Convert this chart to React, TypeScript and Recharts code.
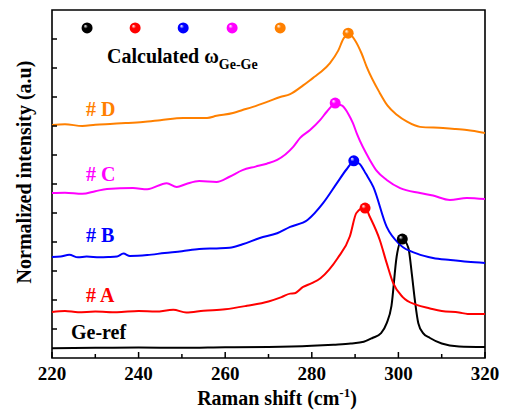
import React from "react";
import { ComposedChart, Line, Scatter, XAxis, YAxis, ReferenceArea } from "recharts";

// ─── Data ────────────────────────────────────────────────────────────────────

const geRefX = [220, 230, 240, 250, 260, 270, 280, 285, 289, 292, 294, 296, 297.3, 298.4, 299.6, 300.9, 302.3, 303.1, 303.8, 304.6, 305.7, 307.3, 310, 314, 320];
const geRefY = [0.34, 0.35, 0.36, 0.35, 0.37, 0.38, 0.42, 0.46, 0.5, 0.56, 0.69, 0.86, 1.2, 1.8, 3.5, 4.1, 3.8, 2.9, 2.0, 1.2, 0.86, 0.69, 0.5, 0.4, 0.38];

const aX = [220, 223, 226, 230, 235, 240, 244, 248, 251, 255, 260, 265, 270, 273, 275, 276, 278, 280, 282, 284, 286, 288.8, 290.3, 292.3, 293.4, 295.7, 297.3, 298.8, 301, 304.2, 307.3, 310, 314, 316, 320];
const aY = [1.59, 1.62, 1.58, 1.6, 1.58, 1.62, 1.6, 1.66, 1.57, 1.63, 1.68, 1.8, 1.95, 2.1, 2.22, 2.23, 2.45, 2.58, 2.75, 3.05, 3.45, 4.2, 5.0, 5.2, 4.87, 4.07, 3.27, 2.58, 2.1, 1.83, 1.71, 1.62, 1.57, 1.52, 1.52];

const bX = [220, 222, 224, 226, 228, 231, 233, 235, 236.5, 238, 242, 246, 250, 254, 258, 261, 264, 268, 272, 275, 279, 282.6, 285.8, 288, 289.7, 291, 292.5, 294.2, 297.3, 300.4, 304.3, 308, 312, 316, 320];
const bY = [3.48, 3.5, 3.56, 3.47, 3.5, 3.47, 3.48, 3.5, 3.6, 3.52, 3.55, 3.62, 3.68, 3.76, 3.78, 3.8, 3.92, 4.14, 4.3, 4.52, 4.76, 5.34, 6.03, 6.5, 6.78, 6.7, 6.35, 5.9, 4.52, 3.9, 3.6, 3.45, 3.38, 3.32, 3.28];

const cX = [220, 223, 227, 230, 232.7, 238.7, 242, 246.5, 248.8, 251, 254, 258, 261, 264, 267, 269.6, 272, 275.7, 277.3, 279.6, 281.9, 283.5, 285.4, 287, 288.5, 289.5, 290.5, 293.4, 295, 297.3, 300.4, 305, 308, 311.9, 315.8, 320];
const cY = [5.69, 5.7, 5.66, 5.75, 5.83, 5.86, 5.82, 6.03, 5.9, 6.0, 6.1, 6.07, 6.25, 6.48, 6.6, 6.7, 6.83, 7.28, 7.59, 7.86, 8.2, 8.5, 8.77, 8.7, 8.4, 8.1, 7.7, 6.83, 6.45, 6.14, 5.86, 5.69, 5.6, 5.45, 5.52, 5.48];

const dX = [220, 223, 227, 230, 233.4, 237, 241, 245, 250.3, 255.8, 258, 261.8, 264, 266.4, 270, 272.7, 275, 278, 280.3, 282, 284.2, 286.1, 287.5, 288.8, 290, 291.5, 292.7, 295.7, 297.5, 299.7, 302, 305, 310.3, 313, 315.8, 320];
const dY = [8.03, 8.06, 8.0, 8.04, 8.07, 8.1, 8.14, 8.2, 8.28, 8.28, 8.35, 8.45, 8.55, 8.66, 8.85, 9.0, 9.1, 9.4, 9.66, 9.85, 10.17, 10.6, 11.05, 11.15, 10.95, 10.5, 10.03, 9.14, 8.7, 8.38, 8.15, 7.97, 7.93, 7.9, 7.86, 7.76];

// calculated ω(Ge-Ge) markers on each peak: Ge-ref, A, B, C, D
const peakX = [300.9, 292.3, 289.7, 285.4, 288.4];
const peakY = [4.1, 5.17, 6.8, 8.79, 11.2];

// the row of balls next to the "Calculated" caption
const keyBallX = [228.1, 239.2, 250.3, 261.6, 272.7];
const keyBallY = [11.38, 11.38, 11.38, 11.38, 11.38];

const sampleNames = ["Ge-ref", "# A", "# B", "# C", "# D"];
const sampleColors = ["#000000", "#ff0000", "#0000ff", "#ff00ff", "#ff8000"];

const xTicks = [220, 230, 240, 250, 260, 270, 280, 290, 300, 310, 320];
const yTicks = [1, 2, 3, 4, 5, 6, 7, 8, 9, 10, 11];

// ─── Helpers ─────────────────────────────────────────────────────────────────

const zip = (xs: number[], ys: number[]) => xs.map((x, i) => ({ x, y: ys[i] }));

const spectra = [
  zip(geRefX, geRefY),
  zip(aX, aY),
  zip(bX, bY),
  zip(cX, cY),
  zip(dX, dY),
];

const serif = { fontFamily: "Liberation Serif, Times New Roman, DejaVu Serif, serif", fontWeight: 700 };

function XTick(props: any) {
  const { x, y, payload } = props;
  const major = payload.value % 20 === 0;
  return (
    <g>
      <line x1={x} x2={x} y1={y} y2={y - (major ? 6 : 4)} stroke="#000" strokeWidth={1.5} />
      {major && (
        <text x={x} y={y + 22} textAnchor="middle" style={{ ...serif, fontSize: 19 }} fill="#000">
          {payload.value}
        </text>
      )}
    </g>
  );
}

function YTick(props: any) {
  const { x, y } = props;
  return <line x1={x} x2={x + 5} y1={y} y2={y} stroke="#000" strokeWidth={1.5} />;
}

function Ball(props: any) {
  const { cx, cy, fill } = props;
  return <circle cx={cx} cy={cy} r={5.5} fill={fill} />;
}

// ─── Main ────────────────────────────────────────────────────────────────────

export default function App() {
  return (
    <div style={{ position: "absolute", left: 0, top: 0, width: 506, height: 411, background: "#fff" }}>
      <svg width={0} height={0} style={{ position: "absolute" }}>
        <defs>
          {sampleColors.map((c, i) => (
            <radialGradient key={i} id={`ball${i}`} cx="50%" cy="50%" r="55%" fx="32%" fy="30%">
              <stop offset="0%" stopColor="#ffffff" />
              <stop offset="35%" stopColor={c} />
              <stop offset="100%" stopColor={c} />
            </radialGradient>
          ))}
        </defs>
      </svg>
      <ComposedChart width={506} height={411} margin={{ top: 10, right: 21, left: 0, bottom: 0 }}>
        <XAxis
          dataKey="x"
          type="number"
          domain={[220, 320]}
          ticks={xTicks}
          allowDataOverflow
          height={53}
          tickSize={0}
          tickMargin={0}
          axisLine={false}
          tick={<XTick />}
          interval={0}
        />
        <YAxis
          type="number"
          domain={[0, 12]}
          ticks={yTicks}
          allowDataOverflow
          width={52}
          tickSize={0}
          tickMargin={0}
          axisLine={false}
          tick={<YTick />}
          interval={0}
        />
        <ReferenceArea x1={220} x2={320} y1={0} y2={12} fill="none" stroke="#000" strokeWidth={1.6} />
        {spectra.map((d, i) => (
          <Line
            key={sampleNames[i]}
            data={d}
            dataKey="y"
            type="monotone"
            stroke={sampleColors[i]}
            strokeWidth={2}
            dot={false}
            activeDot={false}
            isAnimationActive={false}
          />
        ))}
        {sampleColors.map((c, i) => (
          <Scatter
            key={c}
            data={[
              { x: peakX[i], y: peakY[i] },
              { x: keyBallX[i], y: keyBallY[i] },
            ]}
            dataKey="y"
            fill={`url(#ball${i})`}
            shape={<Ball />}
            isAnimationActive={false}
          />
        ))}
      </ComposedChart>
      <svg
        width={506}
        height={411}
        style={{ position: "absolute", left: 0, top: 0, pointerEvents: "none", ...serif }}
      >
        <text x={107} y={63} fontSize={20} fill="#000">
          Calculated ω
          <tspan fontSize={14} dy={6}>Ge-Ge</tspan>
        </text>
        <text x={86} y={116} fontSize={20} fill={sampleColors[4]}>{sampleNames[4]}</text>
        <text x={86} y={181} fontSize={20} fill={sampleColors[3]}>{sampleNames[3]}</text>
        <text x={86} y={242} fontSize={20} fill={sampleColors[2]}>{sampleNames[2]}</text>
        <text x={86} y={302} fontSize={20} fill={sampleColors[1]}>{sampleNames[1]}</text>
        <text x={71} y={339} fontSize={20} fill={sampleColors[0]}>{sampleNames[0]}</text>
        <text transform="translate(31,172) rotate(-90)" textAnchor="middle" fontSize={20} fill="#000">
          Normalized intensity (a.u)
        </text>
        <text x={277} y={405} textAnchor="middle" fontSize={20} fill="#000">
          Raman shift (cm
          <tspan fontSize={13} dy={-8}>-1</tspan>
          <tspan dy={8}>)</tspan>
        </text>
      </svg>
    </div>
  );
}
